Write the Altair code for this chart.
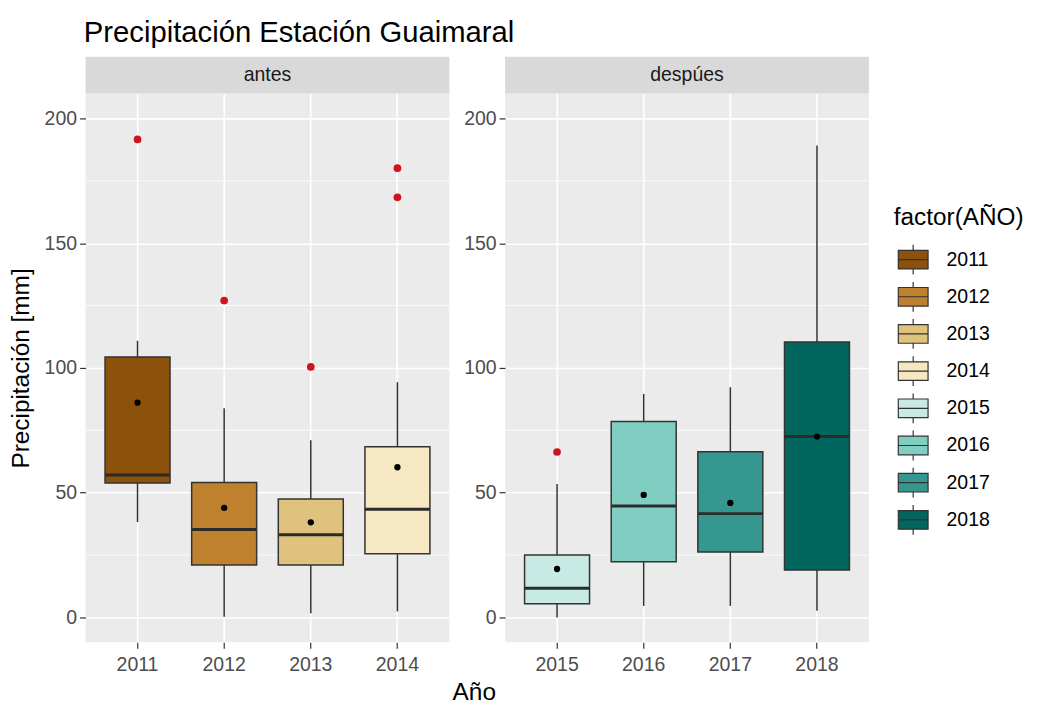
import altair as alt
import pandas as pd

# ---------------- data ----------------
years = ["2011", "2012", "2013", "2014", "2015", "2016", "2017", "2018"]
periodo = ["antes", "antes", "antes", "antes", "despúes", "despúes", "despúes", "despúes"]
lower = [38.2, 0.3, 1.7, 2.4, 0.0, 4.6, 4.6, 2.7]
q1 = [53.9, 21.0, 21.0, 25.5, 5.5, 22.3, 26.2, 19.0]
median = [57.1, 35.2, 33.1, 43.4, 11.7, 44.7, 41.6, 72.5]
q3 = [104.4, 54.1, 47.5, 68.4, 25.0, 78.5, 66.4, 110.4]
upper = [110.9, 83.8, 71.0, 94.3, 53.5, 89.6, 92.3, 189.2]
mean = [86.1, 43.9, 38.1, 60.2, 19.4, 49.1, 45.9, 72.5]

outlier_years = ["2011", "2012", "2013", "2014", "2014", "2015"]
outlier_periodo = ["antes", "antes", "antes", "antes", "antes", "despúes"]
outlier_values = [191.6, 127.0, 100.4, 180.1, 168.4, 66.3]

colors = ["#8C510A", "#BF812D", "#DFC27D", "#F6E8C3",
          "#C7EAE5", "#80CDC1", "#35978F", "#01665E"]
y_ticks = [0, 50, 100, 150, 200]
y_minor = [25, 75, 125, 175]
panels = ["antes", "despúes"]

# ---------------- tables ----------------
box_df = pd.DataFrame({"year": years, "periodo": periodo, "lower": lower, "q1": q1,
                       "median": median, "q3": q3, "upper": upper, "mean": mean})
out_df = pd.DataFrame({"year": outlier_years, "periodo": outlier_periodo, "valor": outlier_values})
minor_df = pd.DataFrame({"v": y_minor})

FONT = "Liberation Sans"
W, H = 366, 552
STRIP = 37
RED = "#D0141E"

yscale = alt.Scale(domain=[-10, 210], nice=False, zero=False)


def panel(per, first):
    b = box_df[box_df.periodo == per]
    o = out_df[out_df.periodo == per]
    yaxis = alt.Axis(values=y_ticks, title="Precipitación [mm]" if first else None,
                     grid=True, gridColor="white", gridWidth=1.6, domain=False,
                     tickColor="#333333", tickSize=6, tickWidth=1.2,
                     labelColor="#4D4D4D", labelFontSize=19.6, labelFont=FONT, labelPadding=3,
                     titleFont=FONT, titleFontSize=24.5, titleFontWeight="normal",
                     titleColor="black", titlePadding=11)

    def Y(f):
        return alt.Y(f, type="quantitative", scale=yscale, axis=yaxis)

    X = alt.X("year:N", sort=years,
              scale=alt.Scale(paddingInner=0.25, paddingOuter=0.225),
              axis=alt.Axis(title=None, grid=True, gridColor="white", gridWidth=1.6,
                            bandPosition=0.5, domain=False, labelAngle=0,
                            tickColor="#333333", tickSize=6, tickWidth=1.2,
                            labelColor="#4D4D4D", labelFontSize=19.6, labelFont=FONT,
                            labelPadding=7))

    minor = alt.Chart(minor_df).mark_rule(color="white", strokeWidth=0.8).encode(y=Y("v"))
    whisk = alt.Chart(b).mark_rule(color="#333333", strokeWidth=1.5).encode(
        x=X, y=Y("lower"), y2="upper")
    box = alt.Chart(b).mark_bar(stroke="#333333", strokeWidth=1.5).encode(
        x=X, y=Y("q1"), y2="q3",
        color=alt.Color("year:N", scale=alt.Scale(domain=years, range=colors),
                        legend=alt.Legend(
                            title="factor(AÑO)", orient="none", legendX=813, legendY=113,
                            symbolType="M-0.8,-0.5H0.8V0.5H-0.8Z M-0.8,0H0.8 M0,-0.5V-0.8 M0,0.5V0.8",
                            symbolSize=1400, symbolStrokeColor="#333333", symbolStrokeWidth=1.2,
                            symbolOpacity=1, rowPadding=0.4, labelOffset=14,
                            labelFont=FONT, labelFontSize=19.6, labelColor="black",
                            titleFont=FONT, titleFontSize=24.5, titleFontWeight="normal",
                            titleColor="black", titlePadding=10)))
    med = alt.Chart(b).mark_tick(color="#2B2B2B", thickness=3, opacity=1).encode(
        x=X, y=Y("median"))
    mn = alt.Chart(b).mark_circle(color="black", size=40, opacity=1).encode(
        x=X, y=Y("mean"))
    outl = alt.Chart(o).mark_circle(color=RED, size=60, opacity=1).encode(
        x=X, y=Y("valor"))

    lab = pd.DataFrame({"label": [per]})
    strip_rect = alt.Chart(lab).mark_rect(color="#D9D9D9").encode(
        x=alt.value(0), x2=alt.value(W), y=alt.value(-STRIP), y2=alt.value(0))
    strip_text = alt.Chart(lab).mark_text(font=FONT, fontSize=19.6, color="#1A1A1A",
                                          baseline="middle", align="center").encode(
        x=alt.value(W / 2), y=alt.value(-STRIP / 2), text="label:N")
    layers = [minor, whisk, box, med, mn, outl, strip_rect, strip_text]
    if not first:
        xt = pd.DataFrame({"t": ["Año"]})
        layers.append(alt.Chart(xt).mark_text(font=FONT, fontSize=24.5, color="black",
                                              baseline="middle", align="center").encode(
            x=alt.value(-31), y=alt.value(H + 51), text="t:N"))
    return alt.layer(*layers).properties(width=W, height=H)


chart = alt.hconcat(panel(panels[0], True), panel(panels[1], False),
                    spacing=56, bounds="flush").resolve_scale(x="independent").properties(
    title=alt.Title("Precipitación Estación Guaimaral", anchor="start", font=FONT,
                    fontSize=29.4, fontWeight="normal", color="black", offset=8, dx=76),
    padding={"left": 0, "top": 8, "right": 5, "bottom": 5},
).configure(background="white").configure_view(fill="#EBEBEB", stroke=None)

chart.save("out.html", embed_options={"renderer": "svg", "actions": False})
